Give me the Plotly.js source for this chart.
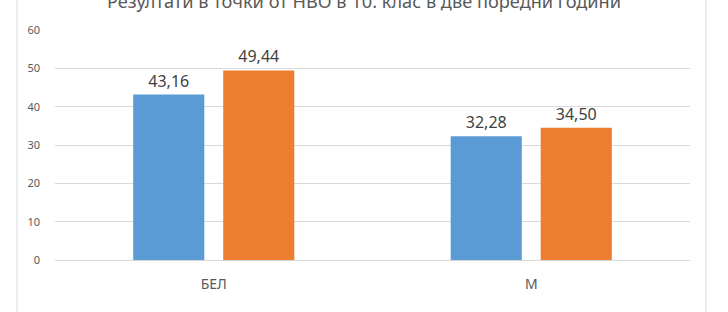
<!DOCTYPE html>
<html>
<head>
<meta charset="utf-8">
<script src="https://cdn.plot.ly/plotly-3.0.1.min.js"></script>
<style>html,body{margin:0;padding:0;background:#fff;}#chart{width:728px;height:312px;}</style>
</head>
<body>
<div id="chart"></div>
<script>
const categories = ["БЕЛ", "М"];
const year1Values = [43.16, 32.28];
const year2Values = [49.44, 34.50];
const year1Labels = ["43,16", "32,28"];
const year2Labels = ["49,44", "34,50"];
const yTicks = [0, 10, 20, 30, 40, 50, 60];

const labelFont = {family: "Noto Sans, sans-serif", size: 16, color: "#404040"};

const traces = [
  {type: "bar", x: categories, y: year1Values, name: "year1",
   text: year1Labels, textposition: "outside", textfont: labelFont,
   cliponaxis: false, marker: {color: "#5B9BD5"}, hoverinfo: "none"},
  {type: "bar", x: categories, y: year2Values, name: "year2",
   text: year2Labels, textposition: "outside", textfont: labelFont,
   cliponaxis: false, marker: {color: "#ED7D31"}, hoverinfo: "none"}
];

const layout = {
  width: 728, height: 312,
  margin: {l: 55, r: 38, t: 30, b: 52, pad: 0},
  paper_bgcolor: "#ffffff", plot_bgcolor: "#ffffff",
  showlegend: false,
  barmode: "group", bargap: 0.433, bargroupgap: 0.21,
  title: {text: "Резултати в точки от НВО в 10. клас в две поредни години",
          font: {family: "Noto Sans, sans-serif", size: 18.2, color: "#595959"},
          x: 0.5, xref: "container", y: 0.994, yref: "container", yanchor: "middle"},
  xaxis: {type: "category", showgrid: false, zeroline: false, showline: false,
          ticks: "", ticklabelstandoff: 14,
          tickfont: {family: "Noto Sans, sans-serif", size: 14, color: "#595959"}},
  yaxis: {range: [0, 60], tickvals: yTicks, ticktext: yTicks.map(String),
          showgrid: true, gridcolor: "#d9d9d9", gridwidth: 1, zeroline: true, zerolinecolor: "#d9d9d9",
          showline: false, ticks: "", ticklabelstandoff: 14,
          tickfont: {family: "Noto Sans, sans-serif", size: 11, color: "#595959"}},
  shapes: [
    {type: "line", xref: "paper", yref: "paper", x0: -38/635, x1: -38/635, y0: 1.5, y1: -0.5,
     line: {color: "#d9d9d9", width: 1}},
    {type: "line", xref: "paper", yref: "paper", x0: 1 + 16/635, x1: 1 + 16/635, y0: 1.5, y1: -0.5,
     line: {color: "#d9d9d9", width: 1}}
  ]
};

Plotly.newPlot("chart", traces, layout, {displayModeBar: false, staticPlot: true});
</script>
</body>
</html>
